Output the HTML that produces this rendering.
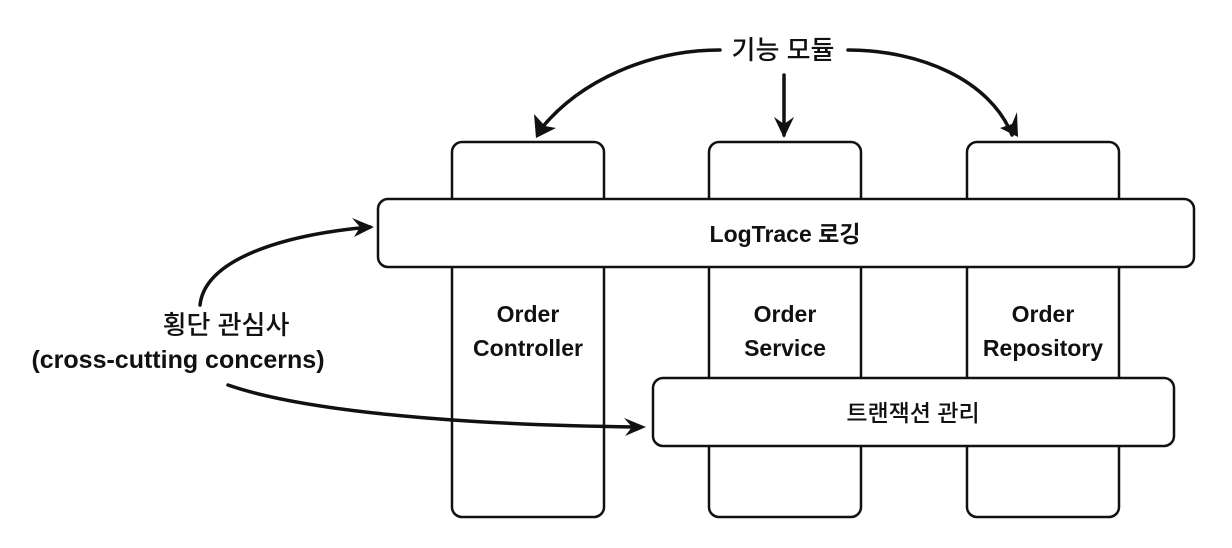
<!DOCTYPE html>
<html><head><meta charset="utf-8"><style>
body{margin:0;background:#fff;width:1232px;height:548px;overflow:hidden}
svg{display:block}
text{font-family:"Liberation Sans","Noto Sans CJK KR",sans-serif;fill:#111}
</style></head><body>
<svg width="1232" height="548" viewBox="0 0 1232 548">
<g fill="#fff" stroke="#111" stroke-width="2.5">
<rect x="452" y="142" width="152" height="375" rx="10"/>
<rect x="709" y="142" width="152" height="375" rx="10"/>
<rect x="967" y="142" width="152" height="375" rx="10"/>
<rect x="378" y="199" width="816" height="68" rx="10"/>
<rect x="653" y="378" width="521" height="68" rx="10"/>
</g>
<g font-size="23" text-anchor="middle">
<text x="785" y="242" font-weight="bold">LogTrace 로깅</text>
<text x="913" y="421" font-weight="500">트랜잭션 관리</text>
<text x="528" y="322" font-weight="bold">Order</text>
<text x="528" y="356" font-weight="bold">Controller</text>
<text x="785" y="322" font-weight="bold">Order</text>
<text x="785" y="356" font-weight="bold">Service</text>
<text x="1043" y="322" font-weight="bold">Order</text>
<text x="1043" y="356" font-weight="bold">Repository</text>
<text x="783" y="59" font-size="26" font-weight="500">기능 모듈</text>
<text x="226" y="334" font-size="26" font-weight="500">횡단 관심사</text>
<text x="178" y="368" font-size="25" font-weight="bold">(cross-cutting concerns)</text>
</g>
<g fill="none" stroke="#111" stroke-width="3.5" stroke-linecap="round">
<path d="M720 50 C650 50 580 80 540 130"/>
<path d="M784 75 L784 135"/>
<path d="M848 50 C920 50 990 80 1012 135"/>
<path d="M200 305 C205 260 280 235 370 227"/>
<path d="M228 385 C300 410 450 425 640 427"/>
</g>
<g fill="#111">
<polygon points="536,138 534,114 545,126 556,128"/>
<polygon points="784,138 774,117 784,124 794,117"/>
<polygon points="1018,137 1000,128 1012,124 1017,112"/>
<polygon points="374,227 352,218 360,227 354,237"/>
<polygon points="646,427 624,418 632,427 625,436"/>
</g>
</svg>
</body></html>
